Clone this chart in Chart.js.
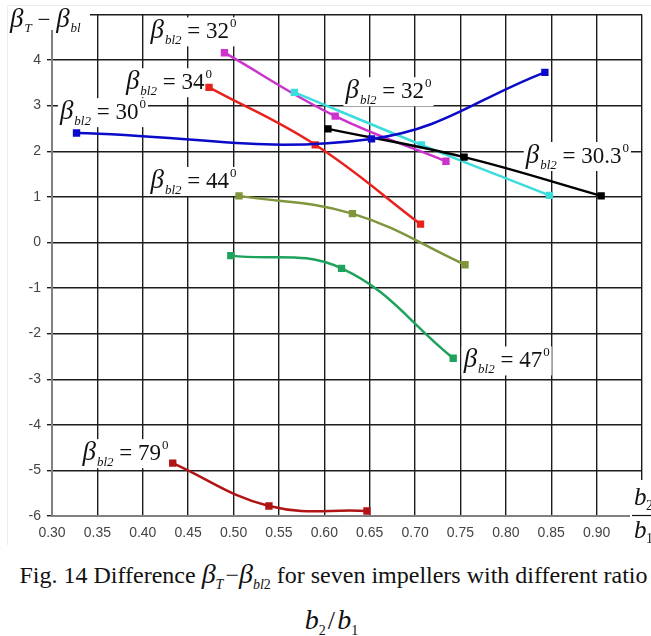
<!DOCTYPE html>
<html><head><meta charset="utf-8">
<script src="https://cdn.jsdelivr.net/npm/chart.js@4.4.0/dist/chart.umd.min.js"></script>
<style>
html,body{margin:0;padding:0;background:#fff;}
#wrap{position:relative;width:651px;height:636px;overflow:hidden;background:#fff;}
#c{position:absolute;left:0;top:0;}
.cap{position:absolute;font-family:"Liberation Serif",serif;color:#111;white-space:nowrap;line-height:30px;text-align:center;width:651px;}
.cap .b{font-style:italic;font-size:28px;}
.cap .s{font-size:14px;position:relative;top:6px;}
.cap .si{font-size:14px;font-style:italic;position:relative;top:6px;}
</style></head><body>
<div id="wrap">
<canvas id="c" width="651" height="550"></canvas>
<div class="cap" style="left:8px;top:559px;font-size:24px;">Fig. 14 Difference <span class="b">β</span><span class="si">T</span><span style="font-size:24px">&#8202;−</span><span class="b">β</span><span class="si">bl</span><span class="s">2</span> for seven impellers with different ratio</div>
<div class="cap" style="left:6px;top:605px;font-size:26px;"><span class="b">b</span><span class="s">2</span>&#8202;/&#8202;<span class="b">b</span><span class="s">1</span></div>
</div>
<script>
// ---- data ----
const xTickValues = [0.30,0.35,0.40,0.45,0.50,0.55,0.60,0.65,0.70,0.75,0.80,0.85,0.90,0.95];
const yTickValues = [-6,-5,-4,-3,-2,-1,0,1,2,3,4,5];

const bl30_x   = [0.327, 0.652, 0.843];
const bl30_y   = [2.40, 2.27, 3.73];
const bl32a_x  = [0.490, 0.612, 0.734];
const bl32a_y  = [4.16, 2.77, 1.78];
const bl32b_x  = [0.567, 0.707, 0.848];
const bl32b_y  = [3.29, 2.14, 1.03];
const bl303_x  = [0.604, 0.754, 0.905];
const bl303_y  = [2.49, 1.87, 1.02];
const bl34_x   = [0.473, 0.590, 0.706];
const bl34_y   = [3.40, 2.14, 0.40];
const bl44_x   = [0.506, 0.631, 0.755];
const bl44_y   = [1.02, 0.63, -0.49];
const bl47_x   = [0.497, 0.619, 0.742];
const bl47_y   = [-0.29, -0.57, -2.54];
const bl79_x   = [0.433, 0.539, 0.647];
const bl79_y   = [-4.84, -5.78, -5.89];

// curve labels: angle text and anchor (data coords: left x, baseline y)
const labelAngles = ['32','34','30','44','32','30.3','47','79'];
const labelX      = [0.4085, 0.3814, 0.3087, 0.4085, 0.6233, 0.8219, 0.7535, 0.3336];
const labelY      = [4.474, 3.359, 2.703, 1.194, 3.162, 1.741, -2.742, -4.775];

function pts(xs, ys){ return xs.map((x,i)=>({x:x, y:ys[i]})); }
function ds(xs, ys, color){
  return {data: pts(xs,ys), borderColor: color, backgroundColor: color,
    borderWidth: 2.5, pointStyle: 'rect', pointRadius: 5.2, pointHoverRadius: 5.2,
    pointBorderWidth: 0, tension: 0.4, fill: false};
}

const SERIF = '"Liberation Serif", serif';

function drawBeta(ctx, x, base, angle){
  ctx.fillStyle = '#111';
  ctx.textBaseline = 'alphabetic';
  ctx.textAlign = 'left';
  ctx.font = 'italic 27px ' + SERIF;
  ctx.fillText('β', x, base); x += ctx.measureText('β').width + 1;
  ctx.font = 'italic 13px ' + SERIF;
  ctx.fillText('bl2', x, base + 6); x += ctx.measureText('bl2').width;
  ctx.font = '23px ' + SERIF;
  const t = ' = ' + angle;
  ctx.fillText(t, x, base); x += ctx.measureText(t).width + 1;
  ctx.font = '13px ' + SERIF;
  ctx.fillText('0', x, base - 11);
  return x + ctx.measureText('0').width;
}
function betaWidth(ctx, angle){
  let w = 0;
  ctx.font = 'italic 27px ' + SERIF; w += ctx.measureText('β').width + 1;
  ctx.font = 'italic 13px ' + SERIF; w += ctx.measureText('bl2').width;
  ctx.font = '23px ' + SERIF; w += ctx.measureText(' = ' + angle).width + 1;
  ctx.font = '13px ' + SERIF; w += ctx.measureText('0').width;
  return w;
}

const annot = {
  id: 'annot',
  beforeDatasetsDraw(chart){
    const ctx = chart.ctx, xs = chart.scales.x, ys = chart.scales.y;
    ctx.save();
    // faint figure frame
    ctx.strokeStyle = '#ececec'; ctx.lineWidth = 1;
    ctx.beginPath(); ctx.moveTo(7.5, 545); ctx.lineTo(7.5, 5.5); ctx.lineTo(651, 5.5); ctx.stroke();
    // curve labels
    labelAngles.forEach((a, i) => {
      const px = xs.getPixelForValue(labelX[i]);
      const py = ys.getPixelForValue(labelY[i]);
      const w = betaWidth(ctx, a);
      ctx.fillStyle = '#fff';
      ctx.fillRect(px - 2, py - 21, w + 4, 29);
      drawBeta(ctx, px, py, a);
    });
    // y-axis title
    ctx.fillStyle = '#fff';
    ctx.fillRect(8, 6, 82, 24);
    ctx.fillStyle = '#111';
    let x = 10, b = 27;
    ctx.font = 'italic 27px ' + SERIF; ctx.fillText('β', x, b); x += ctx.measureText('β').width + 1;
    ctx.font = 'italic 13px ' + SERIF; ctx.fillText('T', x, b + 5); x += ctx.measureText('T').width;
    ctx.font = '23px ' + SERIF; ctx.fillText(' − ', x, b); x += ctx.measureText(' − ').width;
    ctx.font = 'italic 27px ' + SERIF; ctx.fillText('β', x, b); x += ctx.measureText('β').width + 1;
    ctx.font = 'italic 13px ' + SERIF; ctx.fillText('bl', x, b + 5);
    // x-axis title (fraction b2/b1)
    ctx.fillStyle = '#fff';
    ctx.fillRect(630, 480, 21, 70);
    ctx.fillStyle = '#111';
    ctx.font = 'italic 25px ' + SERIF; ctx.fillText('b', 634, 505);
    ctx.font = '14px ' + SERIF; ctx.fillText('2', 646, 510);
    ctx.strokeStyle = '#111'; ctx.lineWidth = 1.2;
    ctx.beginPath(); ctx.moveTo(632, 515.5); ctx.lineTo(651, 515.5); ctx.stroke();
    ctx.font = 'italic 25px ' + SERIF; ctx.fillText('b', 634, 538);
    ctx.font = '14px ' + SERIF; ctx.fillText('1', 646, 543);
    ctx.restore();
  }
};

new Chart(document.getElementById('c'), {
  type: 'line',
  data: {
    datasets: [
      ds(bl30_x, bl30_y, '#0a0ac8'),
      ds(bl34_x, bl34_y, '#e8221c'),
      ds(bl44_x, bl44_y, '#7f963c'),
      ds(bl47_x, bl47_y, '#1fa35c'),
      ds(bl79_x, bl79_y, '#b01414'),
      ds(bl303_x, bl303_y, '#000000'),
      ds(bl32b_x, bl32b_y, '#3cdcdc'),
      ds(bl32a_x, bl32a_y, '#cc33cc')
    ]
  },
  options: {
    responsive: false, animation: false,
    layout: {padding: {top: 13, left: 0, right: 0, bottom: 0}},
    plugins: {legend: {display: false}, tooltip: {enabled: false}},
    scales: {
      x: {
        type: 'linear', min: 0.30, max: 0.95,
        afterBuildTicks: s => { s.ticks = xTickValues.map(v => ({value: v})); },
        afterFit: s => { s.height = 34; },
        ticks: {
          font: {family: 'Liberation Sans, Arial, sans-serif', size: 14}, color: '#444',
          padding: 9, maxRotation: 0, autoSkip: false,
          callback: v => (Math.abs(v - 0.95) < 1e-6 ? '' : Number(v).toFixed(2))
        },
        grid: {color: '#1c1c1c', lineWidth: 1.4, drawTicks: false},
        border: {color: '#808080', width: 2}
      },
      y: {
        min: -6, max: 5,
        afterBuildTicks: s => { s.ticks = yTickValues.map(v => ({value: v})); },
        afterFit: s => { s.width = 52; },
        ticks: {
          font: {family: 'Liberation Sans, Arial, sans-serif', size: 14}, color: '#444',
          padding: 6,
          callback: v => (v === 5 ? '' : String(v))
        },
        grid: {color: '#1c1c1c', lineWidth: 1.4, drawTicks: true, tickLength: 5},
        border: {color: '#808080', width: 2}
      }
    }
  },
  plugins: [annot]
});
</script>
</body></html>
